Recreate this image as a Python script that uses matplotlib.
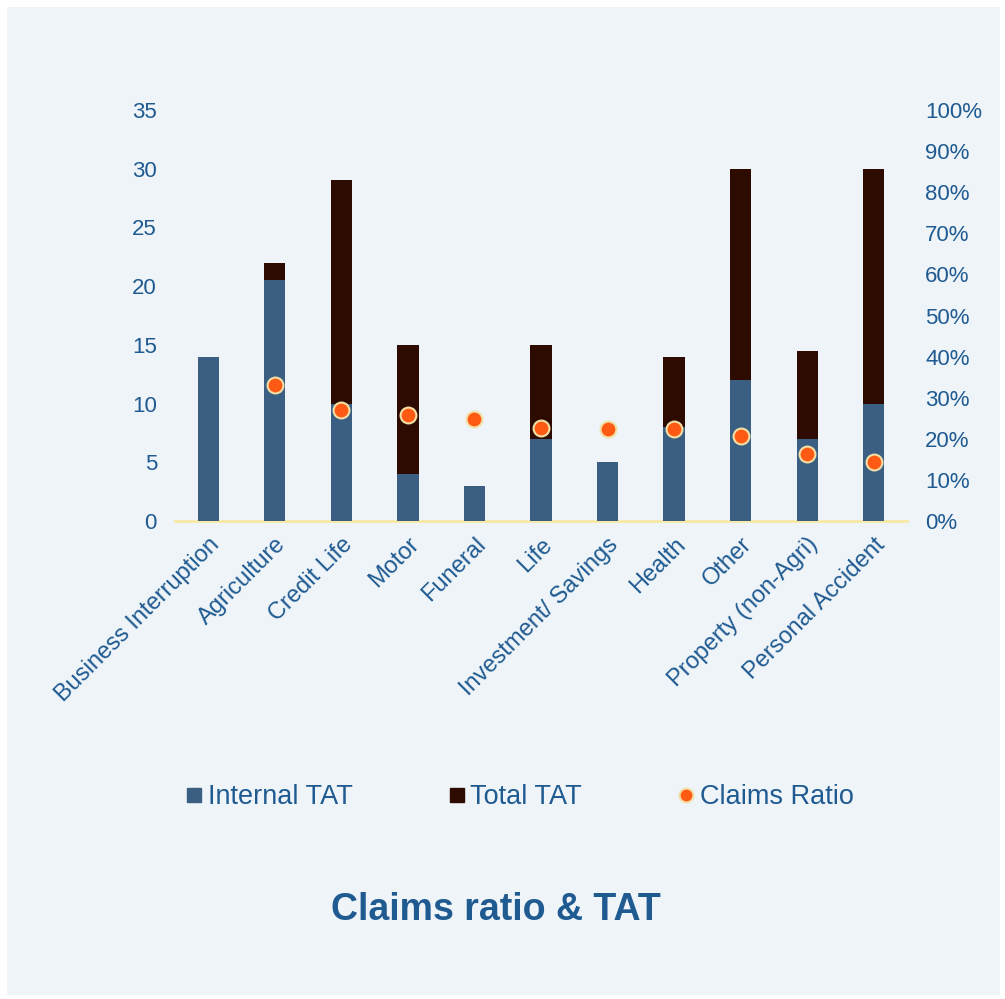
import matplotlib
matplotlib.use("Agg")
import matplotlib.pyplot as plt
from matplotlib.lines import Line2D
from matplotlib.patches import Rectangle
from matplotlib.ticker import FuncFormatter
import numpy as np

categories = ["Business Interruption", "Agriculture", "Credit Life", "Motor", "Funeral",
              "Life", "Investment/ Savings", "Health", "Other", "Property (non-Agri)",
              "Personal Accident"]
internal_tat = [14, 20.5, 10, 4, 3, 7, 5, 8, 12, 7, 10]
total_tat = [0, 22, 29, 15, 0, 15, 0, 14, 30, 14.5, 30]
claims_ratio = [None, 0.33, 0.27, 0.258, 0.248, 0.226, 0.225, 0.223, 0.207, 0.163, 0.144]

plt.rcParams['font.family'] = ['Liberation Sans', 'DejaVu Sans']
text_col = "#1F5A91"
bg = "#EEF4F8"
c_int = "#3A5F82"
c_tot = "#2E0B00"
c_dot = "#FF5A14"
c_edge = "#F3DFA6"

fig = plt.figure(figsize=(10.05, 9.99), dpi=100)
fig.patch.set_facecolor("white")
fig.patches.append(Rectangle((7/1005, 4/999), 993/1005, 988/999, transform=fig.transFigure,
                             facecolor=bg, edgecolor="none", zorder=-10))

ax = fig.add_axes([175/1005, 1-521/999, 732/1005, 411/999])
ax.set_facecolor("none")
x = np.arange(len(categories))
w = 0.32
ax.bar(x, total_tat, width=w, color=c_tot, zorder=2)
ax.bar(x, internal_tat, width=w, color=c_int, zorder=3)
ax.set_xlim(-0.5, len(categories) - 0.5)
ax.set_ylim(0, 35)
ax.set_yticks(range(0, 36, 5))
ax.set_xticks(x)
ax.set_xticklabels(categories, rotation=45, ha="right", rotation_mode="anchor", fontsize=17)
for s in ["top", "right", "left"]:
    ax.spines[s].set_visible(False)
ax.spines["bottom"].set_color("#F7E8A6")
ax.spines["bottom"].set_linewidth(2)
ax.spines["bottom"].set_zorder(1)
ax.tick_params(axis="y", length=0, labelsize=16, colors=text_col, pad=13)
ax.tick_params(axis="x", length=0, colors=text_col, pad=9)

ax2 = ax.twinx()
ax2.set_ylim(0, 1.0)
ax2.set_yticks(np.arange(0, 1.01, 0.1))
ax2.yaxis.set_major_formatter(FuncFormatter(lambda v, p: f"{round(v*100)}%"))
for s in ["top", "right", "left", "bottom"]:
    ax2.spines[s].set_visible(False)
ax2.tick_params(axis="y", length=0, labelsize=16, colors=text_col, pad=13)
cx = [i for i, v in enumerate(claims_ratio) if v is not None]
cy = [v for v in claims_ratio if v is not None]
ax2.scatter(cx, cy, s=130, color=c_dot, edgecolor=c_edge, linewidth=1.5, zorder=5)

handles = [
    Line2D([], [], marker="s", linestyle="none", markersize=10, color=c_int),
    Line2D([], [], marker="s", linestyle="none", markersize=10, color=c_tot),
    Line2D([], [], marker="o", linestyle="none", markersize=10, markerfacecolor=c_dot,
           markeredgecolor=c_edge, markeredgewidth=1.5),
]
fig.legend(handles, ["Internal TAT", "Total TAT", "Claims Ratio"], loc="center",
           bbox_to_anchor=(520/1005, 1-797/999), ncol=3, frameon=False,
           fontsize=19.5, labelcolor=text_col, handlelength=0.6, handletextpad=0.2,
           columnspacing=3.55)

fig.text(496/1005, 1-910/999, "Claims ratio & TAT", ha="center", va="center",
         fontsize=27, fontweight="bold", color=text_col)

fig.savefig("out.png", dpi=100, facecolor=fig.get_facecolor())
